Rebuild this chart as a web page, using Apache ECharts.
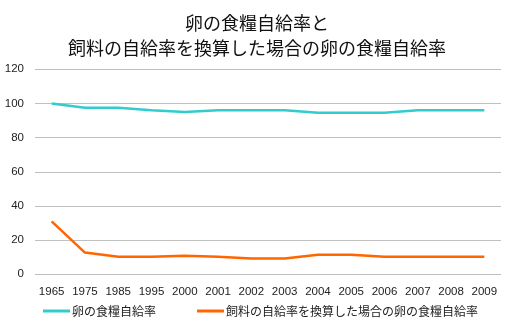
<!DOCTYPE html>
<html><head><meta charset="utf-8">
<script src="https://cdn.jsdelivr.net/npm/echarts@6/dist/echarts.min.js"></script>
<style>html,body{margin:0;padding:0;background:#fff}#c{width:514px;height:326px}</style>
</head><body><div id="c"></div>
<script>
const titleText = "卵の食糧自給率と\n飼料の自給率を換算した場合の卵の食糧自給率";
const categories = ["1965","1975","1985","1995","2000","2001","2002","2003","2004","2005","2006","2007","2008","2009"];
const seriesNames = ["卵の食糧自給率","飼料の自給率を換算した場合の卵の食糧自給率"];
const eggSelf = [100,97.5,97.5,96,95,96,96,96,94.5,94.5,94.5,96,96,96];
const feedAdj = [31,12.7,10.3,10.3,10.9,10.3,9.2,9.2,11.5,11.5,10.3,10.3,10.3,10.3];
const yTicks = {min:0,max:120,interval:20};

const chart = echarts.init(document.getElementById('c'), null, {renderer:'canvas'});
const cjk = '"Noto Sans CJK JP", sans-serif';
chart.setOption({
  animation:false,
  backgroundColor:'#fff',
  title:{text:titleText,left:'center',top:6,textStyle:{fontFamily:cjk,fontSize:18,fontWeight:'normal',color:'#111',lineHeight:25}},
  grid:{left:35,right:13,top:69.3,bottom:51.7,containLabel:false},
  legend:{bottom:4,left:38,itemGap:41,icon:'rect',itemWidth:27,itemHeight:3,
    textStyle:{fontFamily:cjk,fontSize:12,color:'#222',padding:[0,0,0,-3]},data:seriesNames},
  xAxis:{type:'category',data:categories,boundaryGap:true,
    axisLine:{show:false},axisTick:{show:false},
    axisLabel:{interval:0,fontFamily:'"Liberation Sans", Arial, sans-serif',fontSize:11.5,color:'#222',margin:12}},
  yAxis:{type:'value',min:yTicks.min,max:yTicks.max,interval:yTicks.interval,
    axisLine:{show:false},axisTick:{show:false},
    splitLine:{lineStyle:{color:'#c0c0c0',width:1}},
    axisLabel:{fontFamily:'"Liberation Sans", Arial, sans-serif',fontSize:11.5,color:'#222',margin:11}},
  series:[
    {name:seriesNames[0],type:'line',data:eggSelf,symbol:'none',lineStyle:{color:'#33cccc',width:2.5},itemStyle:{color:'#33cccc'}},
    {name:seriesNames[1],type:'line',data:feedAdj,symbol:'none',lineStyle:{color:'#ff6600',width:2.5},itemStyle:{color:'#ff6600'}}
  ]
});
</script></body></html>
